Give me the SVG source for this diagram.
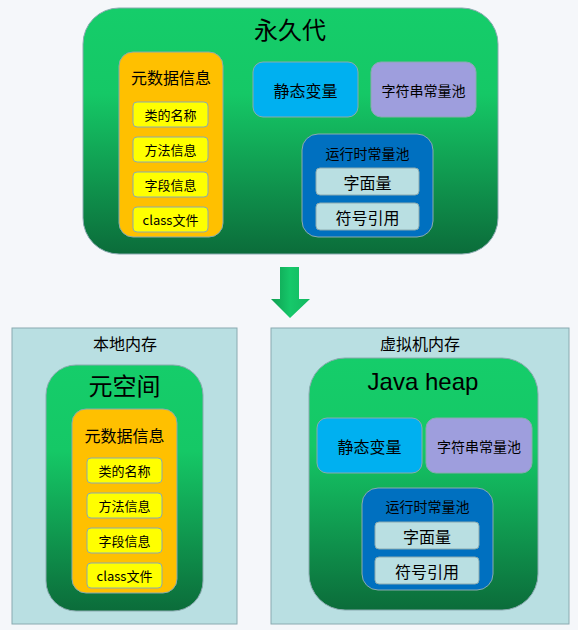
<svg xmlns="http://www.w3.org/2000/svg" width="578" height="630" viewBox="0 0 578 630">
<defs>
<linearGradient id="g" x1="0" y1="0" x2="0" y2="1">
<stop offset="0" stop-color="#15CD6A"/>
<stop offset="0.35" stop-color="#15C866"/>
<stop offset="1" stop-color="#0B6C3A"/>
</linearGradient>
<linearGradient id="ga" x1="0" y1="0" x2="1" y2="0">
<stop offset="0" stop-color="#0E9E50"/>
<stop offset="0.5" stop-color="#16C86A"/>
<stop offset="1" stop-color="#13B860"/>
</linearGradient>
<style>
text{font-family:"Noto Sans CJK SC","Liberation Sans",sans-serif;fill:#000;text-anchor:middle;dominant-baseline:central}
.green{fill:url(#g);stroke:#8AAAB0;stroke-width:1}
.mem{fill:#B9DFE2;stroke:#8AAAB0;stroke-width:1}
.orange{fill:#FFC000;stroke:#8AAAB0;stroke-width:1}
.yel{fill:#FFFF00;stroke:#8AAAB0;stroke-width:1}
.cyan{fill:#00B0F0;stroke:#8AAAB0;stroke-width:1}
.purp{fill:#9E9EDD;stroke:#8AAAB0;stroke-width:1}
.blue{fill:#0070C0;stroke:#8AAAB0;stroke-width:1}
.lt{fill:#B9DFE2;stroke:#8AAAB0;stroke-width:1}
.s13{font-size:13px}.s14{font-size:14px}.s16{font-size:16px}.s24{font-size:24px}
</style>
</defs>
<rect width="578" height="630" fill="#F5F7FA"/>

<g id="permgen">
<rect class="green" x="83" y="8" width="415" height="246" rx="36"/>
<text class="s24" x="290" y="28">永久代</text>
</g>
<g id="perm-meta">
<rect class="orange" x="119" y="52" width="104" height="185" rx="14"/>
<text class="s16" x="171" y="77">元数据信息</text>
<rect class="yel" x="133" y="102" width="75" height="25" rx="4"/>
<text class="s13" x="170.5" y="114.5">类的名称</text>
<rect class="yel" x="133" y="137" width="75" height="25" rx="4"/>
<text class="s13" x="170.5" y="149.5">方法信息</text>
<rect class="yel" x="133" y="172" width="75" height="25" rx="4"/>
<text class="s13" x="170.5" y="184.5">字段信息</text>
<rect class="yel" x="133" y="207" width="75" height="25" rx="4"/>
<text class="s13" x="170.5" y="219.5">class文件</text>
</g>
<g id="perm-static">
<rect class="cyan" x="253" y="62" width="105" height="55" rx="10"/>
<text class="s16" x="305.5" y="89.5">静态变量</text>
</g>
<g id="perm-string">
<rect class="purp" x="371" y="62" width="105" height="55" rx="10"/>
<text class="s14" x="423.5" y="89.5">字符串常量池</text>
</g>
<g id="perm-runtime">
<rect class="blue" x="302" y="134" width="131" height="103" rx="16"/>
<text class="s14" x="367.5" y="153">运行时常量池</text>
<rect class="lt" x="316" y="168" width="103" height="27" rx="4"/>
<text class="s16" x="367.5" y="181.5">字面量</text>
<rect class="lt" x="316" y="203" width="103" height="27" rx="4"/>
<text class="s16" x="367.5" y="216.5">符号引用</text>
</g>

<g id="connectors">
<path d="M280,267 H299 V299 H310 L290,318 L271,299 H280 Z" fill="url(#ga)"/>
</g>

<g id="native">
<rect class="mem" x="12" y="328" width="225" height="296"/>
<text class="s16" x="125" y="343">本地内存</text>
</g>
<g id="metaspace">
<rect class="green" x="46" y="365" width="157" height="246" rx="30"/>
<text class="s24" x="124.5" y="384">元空间</text>
</g>
<g id="meta-meta">
<rect class="orange" x="72" y="409" width="105" height="184" rx="14"/>
<text class="s16" x="124.5" y="435">元数据信息</text>
<rect class="yel" x="87" y="458" width="75" height="25" rx="4"/>
<text class="s13" x="124.5" y="470.5">类的名称</text>
<rect class="yel" x="87" y="493" width="75" height="25" rx="4"/>
<text class="s13" x="124.5" y="505.5">方法信息</text>
<rect class="yel" x="87" y="528" width="75" height="25" rx="4"/>
<text class="s13" x="124.5" y="540.5">字段信息</text>
<rect class="yel" x="87" y="563" width="75" height="25" rx="4"/>
<text class="s13" x="124.5" y="575.5">class文件</text>
</g>

<g id="jvm">
<rect class="mem" x="271" y="328" width="298" height="296"/>
<text class="s16" x="420" y="343">虚拟机内存</text>
</g>
<g id="heap">
<rect class="green" x="309" y="358" width="229" height="252" rx="36"/>
<text x="423" y="381" style="font-family:'Liberation Sans',Arial,sans-serif;font-size:24px">Java heap</text>
</g>
<g id="heap-static">
<rect class="cyan" x="317" y="418" width="105" height="55" rx="10"/>
<text class="s16" x="369.5" y="445.5">静态变量</text>
</g>
<g id="heap-string">
<rect class="purp" x="426" y="418" width="106" height="55" rx="10"/>
<text class="s14" x="479" y="445.5">字符串常量池</text>
</g>
<g id="heap-runtime">
<rect class="blue" x="362" y="488" width="131" height="102" rx="16"/>
<text class="s14" x="427.5" y="506">运行时常量池</text>
<rect class="lt" x="375" y="522" width="104" height="27" rx="4"/>
<text class="s16" x="427" y="535.5">字面量</text>
<rect class="lt" x="375" y="557" width="104" height="27" rx="4"/>
<text class="s16" x="427" y="570.5">符号引用</text>
</g>
</svg>
